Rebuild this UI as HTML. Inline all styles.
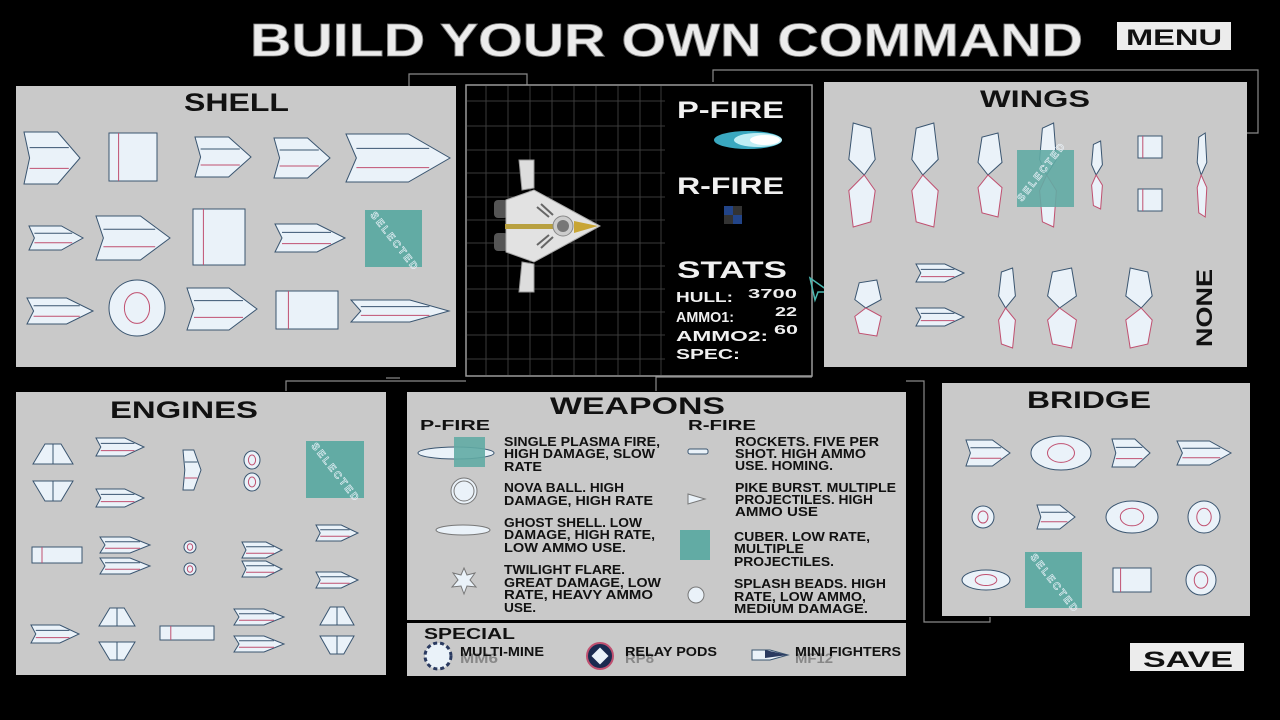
<!DOCTYPE html>
<html><head><meta charset="utf-8"><style>
html,body{margin:0;padding:0;background:#000;}
svg{display:block;}
text{font-family:"Liberation Sans",sans-serif;font-weight:bold;}
</style></head><body>
<svg width="1280" height="720" viewBox="0 0 1280 720" xmlns="http://www.w3.org/2000/svg">
<defs>
<g id="pt"><polygon points="-1,-1 0.2,-1 1,0 0.2,1 -1,1 -0.8,0" fill="#eaf2f9" stroke="#3a5570" stroke-width="1" vector-effect="non-scaling-stroke"/><line x1="-0.8" y1="-0.4" x2="0.6" y2="-0.4" stroke="#3a5570" vector-effect="non-scaling-stroke"/><line x1="-0.8" y1="0.4" x2="0.6" y2="0.4" stroke="#c05070" vector-effect="non-scaling-stroke"/></g>
<g id="ov"><ellipse cx="0" cy="0" rx="1" ry="1" fill="#eaf2f9" stroke="#3a5570" stroke-width="1" vector-effect="non-scaling-stroke"/><ellipse cx="0" cy="0" rx="0.45" ry="0.55" fill="none" stroke="#c05070" vector-effect="non-scaling-stroke"/></g>
<g id="rc"><rect x="-1" y="-1" width="2" height="2" fill="#eaf2f9" stroke="#3a5570" stroke-width="1" vector-effect="non-scaling-stroke"/><line x1="-0.6" y1="-1" x2="-0.6" y2="1" stroke="#c05070" vector-effect="non-scaling-stroke"/></g>
<g id="tr"><polygon points="-1,1 -0.4,-1 0.4,-1 1,1" fill="#eaf2f9" stroke="#3a5570" stroke-width="1" vector-effect="non-scaling-stroke"/><line x1="0" y1="-1" x2="0" y2="1" stroke="#3a5570" vector-effect="non-scaling-stroke"/></g>
<g id="wg"><polygon points="-0.4,-1 0.4,-0.9 0.6,-0.3 0.1,0 -0.6,-0.3" fill="#eaf2f9" stroke="#3a5570" vector-effect="non-scaling-stroke"/><polygon points="-0.4,1 0.4,0.9 0.6,0.3 0.1,0 -0.6,0.3" fill="#eaf2f9" stroke="#c05070" vector-effect="non-scaling-stroke"/></g>
</defs>

<!-- deco lines -->
<g fill="none" stroke="#8a8a8a" stroke-width="1.2">
<polyline points="409,86 409,74 527,74 527,85"/>
<polyline points="713,82 713,70 1258,70 1258,133 1247,133"/>
<polyline points="286,391 286,381 466,381"/>
<polyline points="656,391 656,377 812,377"/>
<polyline points="906,381 924,381 924,622 990,622 990,617"/>
<polyline points="386,378 400,378"/>
</g>

<!-- title -->
<text x="250" y="56" font-size="46" fill="#ececec" stroke="#888" stroke-width="0.8" textLength="833" lengthAdjust="spacingAndGlyphs" font-weight="normal">BUILD YOUR OWN COMMAND</text>
<rect x="1117" y="22" width="114" height="28" fill="#ececec"/>
<text x="1126" y="45" font-size="22" fill="#111" textLength="96" lengthAdjust="spacingAndGlyphs" font-weight="normal">MENU</text>
<rect x="1130" y="643" width="114" height="28" fill="#ececec"/>
<text x="1143" y="667" font-size="22" fill="#111" textLength="90" lengthAdjust="spacingAndGlyphs">SAVE</text>

<!-- SHELL -->
<rect x="16" y="86" width="440" height="281" fill="#c9c9c9"/>
<text x="184" y="111" font-size="25" fill="#111" textLength="105" lengthAdjust="spacingAndGlyphs">SHELL</text>
<use href="#pt" transform="translate(52,158) scale(28,26)"/>
<use href="#rc" transform="translate(133,157) scale(24,24)"/>
<use href="#pt" transform="translate(223,157) scale(28,20)"/>
<use href="#pt" transform="translate(302,158) scale(28,20)"/>
<use href="#pt" transform="translate(398,158) scale(52,24)"/>
<use href="#pt" transform="translate(56,238) scale(27,12)"/>
<use href="#pt" transform="translate(133,238) scale(37,22)"/>
<use href="#rc" transform="translate(219,237) scale(26,28)"/>
<use href="#pt" transform="translate(310,238) scale(35,14)"/>
<rect x="365" y="210" width="57" height="57" fill="#62aba4"/>
<text x="0" y="0" font-size="10" fill="none" stroke="#eaf2f9" stroke-width="0.6" transform="translate(370,215) rotate(52)" textLength="70" font-weight="normal">SELECTED</text>
<use href="#pt" transform="translate(60,311) scale(33,13)"/>
<use href="#ov" transform="translate(137,308) scale(28,28)"/>
<use href="#pt" transform="translate(222,309) scale(35,21)"/>
<use href="#rc" transform="translate(307,310) scale(31,19)"/>
<use href="#pt" transform="translate(400,311) scale(49,11)"/>

<!-- CENTER -->
<rect x="466" y="85" width="346" height="291" fill="#000" stroke="#9a9a9a" stroke-width="1.5"/>
<g stroke="#3a3a3a" stroke-width="1">
<line x1="486" y1="86" x2="486" y2="375"/><line x1="508" y1="86" x2="508" y2="375"/><line x1="530" y1="86" x2="530" y2="375"/><line x1="552" y1="86" x2="552" y2="375"/><line x1="574" y1="86" x2="574" y2="375"/><line x1="596" y1="86" x2="596" y2="375"/><line x1="618" y1="86" x2="618" y2="375"/><line x1="640" y1="86" x2="640" y2="375"/><line x1="661" y1="86" x2="661" y2="375"/>
<line x1="467" y1="101" x2="665" y2="101"/><line x1="467" y1="126" x2="665" y2="126"/><line x1="467" y1="150" x2="665" y2="150"/><line x1="467" y1="173" x2="665" y2="173"/><line x1="467" y1="197" x2="665" y2="197"/><line x1="467" y1="220" x2="665" y2="220"/><line x1="467" y1="243" x2="665" y2="243"/><line x1="467" y1="266" x2="665" y2="266"/><line x1="467" y1="289" x2="665" y2="289"/><line x1="467" y1="312" x2="665" y2="312"/><line x1="467" y1="335" x2="665" y2="335"/><line x1="467" y1="359" x2="665" y2="359"/>
</g>
<!-- big ship -->
<polygon points="519,160 534,160 534,188 522,190" fill="#ddd" stroke="#999"/>
<polygon points="519,292 534,292 534,264 522,262" fill="#ddd" stroke="#999"/>
<rect x="494" y="200" width="14" height="18" rx="4" fill="#555"/>
<rect x="494" y="233" width="14" height="18" rx="4" fill="#555"/>
<polygon points="506,200 534,190 600,226 534,262 506,252" fill="#e2e2e2" stroke="#aaa"/>
<rect x="505" y="224" width="55" height="5" fill="#b8a040"/>
<circle cx="563" cy="226" r="10" fill="#ccc" stroke="#888"/>
<circle cx="563" cy="226" r="6" fill="#777"/>
<polygon points="574,221 598,226 574,233" fill="#c8a535"/>
<g stroke="#666" stroke-width="2"><line x1="537" y1="207" x2="549" y2="217"/><line x1="541" y1="204" x2="553" y2="215"/><line x1="537" y1="245" x2="549" y2="235"/><line x1="541" y1="248" x2="553" y2="237"/></g>
<text x="677" y="118" font-size="24" fill="#f0f0f0" textLength="107" lengthAdjust="spacingAndGlyphs">P-FIRE</text>
<ellipse cx="748" cy="140" rx="34" ry="9" fill="#3aa8c0"/>
<ellipse cx="758" cy="140" rx="24" ry="7" fill="#bfeef5"/>
<ellipse cx="765" cy="140" rx="15" ry="5" fill="#fff"/>
<text x="677" y="194" font-size="24" fill="#f0f0f0" textLength="107" lengthAdjust="spacingAndGlyphs">R-FIRE</text>
<rect x="724" y="206" width="18" height="18" fill="#333"/><rect x="724" y="206" width="9" height="9" fill="#224488"/><rect x="733" y="215" width="9" height="9" fill="#224488"/>
<text x="677" y="278" font-size="24" fill="#f0f0f0" textLength="110" lengthAdjust="spacingAndGlyphs">STATS</text>
<g fill="#f0f0f0" font-weight="normal">
<text x="676" y="302" font-size="15" textLength="57" lengthAdjust="spacingAndGlyphs">HULL:</text>
<text x="748" y="298" font-size="13" textLength="49" lengthAdjust="spacingAndGlyphs">3700</text>
<text x="676" y="322" font-size="15" textLength="58" lengthAdjust="spacingAndGlyphs">AMMO1:</text>
<text x="775" y="316" font-size="13" textLength="22" lengthAdjust="spacingAndGlyphs">22</text>
<text x="676" y="341" font-size="15" textLength="92" lengthAdjust="spacingAndGlyphs">AMMO2:</text>
<text x="774" y="334" font-size="13" textLength="24" lengthAdjust="spacingAndGlyphs">60</text>
<text x="676" y="359" font-size="15" textLength="64" lengthAdjust="spacingAndGlyphs">SPEC:</text>
</g>
<polygon points="810,278 830,292 818,292 815,300" fill="none" stroke="#4ab8b0" stroke-width="1.5"/>

<!-- WINGS -->
<rect x="824" y="82" width="423" height="285" fill="#c9c9c9"/>
<text x="980" y="107" font-size="24" fill="#111" textLength="110" lengthAdjust="spacingAndGlyphs">WINGS</text>
<use href="#wg" transform="translate(862,175) scale(22,52)"/>
<use href="#wg" transform="translate(925,175) scale(-22,52)"/>
<use href="#wg" transform="translate(990,175) scale(-20,42)"/>
<use href="#wg" transform="translate(1048,175) scale(-14,52)"/>
<rect x="1017" y="150" width="57" height="57" fill="#62aba4" opacity="0.9"/>
<text x="0" y="0" font-size="10" fill="none" stroke="#eaf2f9" stroke-width="0.6" transform="translate(1022,202) rotate(-52)" textLength="70" font-weight="normal">SELECTED</text>
<use href="#wg" transform="translate(1097,175) scale(-9,34)"/>
<use href="#rc" transform="translate(1150,147) scale(12,11)"/>
<use href="#rc" transform="translate(1150,200) scale(12,11)"/>
<use href="#wg" transform="translate(1202,175) scale(-8,42)"/>
<use href="#wg" transform="translate(868,308) scale(-22,28)"/>
<use href="#pt" transform="translate(940,273) scale(24,9)"/>
<use href="#pt" transform="translate(940,317) scale(24,9)"/>
<use href="#wg" transform="translate(1007,308) scale(-14,40)"/>
<use href="#wg" transform="translate(1062,308) scale(-24,40)"/>
<use href="#wg" transform="translate(1139,308) scale(22,40)"/>
<text x="0" y="0" font-size="22" fill="#111" transform="translate(1212,347) rotate(-90)" textLength="78" lengthAdjust="spacingAndGlyphs" font-weight="normal">NONE</text>

<!-- ENGINES -->
<rect x="16" y="392" width="370" height="283" fill="#c9c9c9"/>
<text x="110" y="418" font-size="24" fill="#111" textLength="148" lengthAdjust="spacingAndGlyphs">ENGINES</text>
<use href="#tr" transform="translate(53,454) scale(20,10)"/>
<use href="#tr" transform="translate(53,491) scale(20,-10)"/>
<use href="#pt" transform="translate(120,447) scale(24,9)"/>
<use href="#pt" transform="translate(120,498) scale(24,9)"/>
<use href="#pt" transform="translate(192,470) scale(9,20)"/>
<use href="#ov" transform="translate(252,460) scale(8,9)"/>
<use href="#ov" transform="translate(252,482) scale(8,9)"/>
<rect x="306" y="441" width="58" height="57" fill="#62aba4"/>
<text x="0" y="0" font-size="10" fill="none" stroke="#eaf2f9" stroke-width="0.6" transform="translate(311,446) rotate(52)" textLength="70" font-weight="normal">SELECTED</text>
<use href="#rc" transform="translate(57,555) scale(25,8)"/>
<use href="#pt" transform="translate(125,545) scale(25,8)"/>
<use href="#pt" transform="translate(125,566) scale(25,8)"/>
<use href="#ov" transform="translate(190,547) scale(6,6)"/>
<use href="#ov" transform="translate(190,569) scale(6,6)"/>
<use href="#pt" transform="translate(262,550) scale(20,8)"/>
<use href="#pt" transform="translate(262,569) scale(20,8)"/>
<use href="#pt" transform="translate(337,533) scale(21,8)"/>
<use href="#pt" transform="translate(337,580) scale(21,8)"/>
<use href="#pt" transform="translate(55,634) scale(24,9)"/>
<use href="#tr" transform="translate(117,617) scale(18,9)"/>
<use href="#tr" transform="translate(117,651) scale(18,-9)"/>
<use href="#rc" transform="translate(187,633) scale(27,7)"/>
<use href="#pt" transform="translate(259,617) scale(25,8)"/>
<use href="#pt" transform="translate(259,644) scale(25,8)"/>
<use href="#tr" transform="translate(337,616) scale(17,9)"/>
<use href="#tr" transform="translate(337,645) scale(17,-9)"/>

<!-- WEAPONS -->
<rect x="407" y="392" width="499" height="228" fill="#c9c9c9"/>
<rect x="407" y="623" width="499" height="53" fill="#c9c9c9"/>
<text x="550" y="414" font-size="24" fill="#111" textLength="175" lengthAdjust="spacingAndGlyphs">WEAPONS</text>
<text x="420" y="430" font-size="15" fill="#111" textLength="70" lengthAdjust="spacingAndGlyphs">P-FIRE</text>
<text x="688" y="430" font-size="15" fill="#111" textLength="68" lengthAdjust="spacingAndGlyphs">R-FIRE</text>
<ellipse cx="456" cy="453" rx="38" ry="6" fill="#eaf2f9" stroke="#3a5570"/>
<rect x="454" y="437" width="31" height="30" fill="#62aba4" opacity="0.9"/>
<circle cx="464" cy="491" r="13" fill="#eaf2f9" stroke="#777"/><circle cx="464" cy="491" r="10" fill="none" stroke="#777"/>
<ellipse cx="463" cy="530" rx="27" ry="5" fill="#eaf2f9" stroke="#777"/>
<polygon points="464,568 467,575 475,573 470,580 476,587 467,586 464,594 461,586 452,587 458,580 453,573 461,575" fill="#eaf2f9" stroke="#777"/>
<rect x="688" y="449" width="20" height="5" rx="2" fill="#eaf2f9" stroke="#3a5570"/>
<polygon points="688,494 705,499 688,504" fill="#eaf2f9" stroke="#777"/>
<rect x="680" y="530" width="30" height="30" fill="#62aba4"/>
<circle cx="696" cy="595" r="8" fill="#eaf2f9" stroke="#777"/>
<g fill="#111" font-size="13">
<text x="504" y="446" textLength="156" lengthAdjust="spacingAndGlyphs">SINGLE PLASMA FIRE,</text>
<text x="504" y="458" textLength="151" lengthAdjust="spacingAndGlyphs">HIGH DAMAGE, SLOW</text>
<text x="504" y="471" textLength="38" lengthAdjust="spacingAndGlyphs">RATE</text>
<text x="504" y="492" textLength="120" lengthAdjust="spacingAndGlyphs">NOVA BALL. HIGH</text>
<text x="504" y="505" textLength="149" lengthAdjust="spacingAndGlyphs">DAMAGE, HIGH RATE</text>
<text x="504" y="527" textLength="138" lengthAdjust="spacingAndGlyphs">GHOST SHELL. LOW</text>
<text x="504" y="539" textLength="151" lengthAdjust="spacingAndGlyphs">DAMAGE, HIGH RATE,</text>
<text x="504" y="552" textLength="122" lengthAdjust="spacingAndGlyphs">LOW AMMO USE.</text>
<text x="504" y="574" textLength="121" lengthAdjust="spacingAndGlyphs">TWILIGHT FLARE.</text>
<text x="504" y="587" textLength="157" lengthAdjust="spacingAndGlyphs">GREAT DAMAGE, LOW</text>
<text x="504" y="599" textLength="149" lengthAdjust="spacingAndGlyphs">RATE, HEAVY AMMO</text>
<text x="504" y="612" textLength="32" lengthAdjust="spacingAndGlyphs">USE.</text>
<text x="735" y="446" textLength="144" lengthAdjust="spacingAndGlyphs">ROCKETS. FIVE PER</text>
<text x="735" y="458" textLength="131" lengthAdjust="spacingAndGlyphs">SHOT. HIGH AMMO</text>
<text x="735" y="470" textLength="98" lengthAdjust="spacingAndGlyphs">USE. HOMING.</text>
<text x="735" y="492" textLength="161" lengthAdjust="spacingAndGlyphs">PIKE BURST. MULTIPLE</text>
<text x="735" y="504" textLength="138" lengthAdjust="spacingAndGlyphs">PROJECTILES. HIGH</text>
<text x="735" y="516" textLength="83" lengthAdjust="spacingAndGlyphs">AMMO USE</text>
<text x="734" y="541" textLength="136" lengthAdjust="spacingAndGlyphs">CUBER. LOW RATE,</text>
<text x="734" y="553" textLength="70" lengthAdjust="spacingAndGlyphs">MULTIPLE</text>
<text x="734" y="566" textLength="100" lengthAdjust="spacingAndGlyphs">PROJECTILES.</text>
<text x="734" y="588" textLength="152" lengthAdjust="spacingAndGlyphs">SPLASH BEADS. HIGH</text>
<text x="734" y="601" textLength="132" lengthAdjust="spacingAndGlyphs">RATE, LOW AMMO,</text>
<text x="734" y="613" textLength="134" lengthAdjust="spacingAndGlyphs">MEDIUM DAMAGE.</text>
</g>
<text x="424" y="639" font-size="16" fill="#111" textLength="91" lengthAdjust="spacingAndGlyphs">SPECIAL</text>
<circle cx="438" cy="656" r="13" fill="#eaf2f9" stroke="#2a3a60" stroke-width="3" stroke-dasharray="4 3"/>
<circle cx="600" cy="656" r="13" fill="#1a2a50" stroke="#c05070" stroke-width="2"/><rect x="594" y="650" width="12" height="12" fill="#eaf2f9" transform="rotate(45 600 656)"/>
<polygon points="752,650 770,650 788,655 770,660 752,660" fill="#eaf2f9" stroke="#3a5570"/><polygon points="765,650 788,655 765,658" fill="#2a3a60"/>
<text x="460" y="663" font-size="14" fill="#888" textLength="38" lengthAdjust="spacingAndGlyphs">MM6</text>
<text x="625" y="663" font-size="14" fill="#888" textLength="29" lengthAdjust="spacingAndGlyphs">RP8</text>
<text x="795" y="663" font-size="14" fill="#888" textLength="38" lengthAdjust="spacingAndGlyphs">MF12</text>
<g fill="#111" font-size="13">
<text x="460" y="656" textLength="84" lengthAdjust="spacingAndGlyphs">MULTI-MINE</text>
<text x="625" y="656" textLength="92" lengthAdjust="spacingAndGlyphs">RELAY PODS</text>
<text x="795" y="656" textLength="106" lengthAdjust="spacingAndGlyphs">MINI FIGHTERS</text>
</g>

<!-- BRIDGE -->
<rect x="942" y="383" width="308" height="233" fill="#c9c9c9"/>
<text x="1027" y="408" font-size="24" fill="#111" textLength="124" lengthAdjust="spacingAndGlyphs">BRIDGE</text>
<use href="#pt" transform="translate(988,453) scale(22,13)"/>
<use href="#ov" transform="translate(1061,453) scale(30,17)"/>
<use href="#pt" transform="translate(1131,453) scale(19,14)"/>
<use href="#pt" transform="translate(1204,453) scale(27,12)"/>
<use href="#ov" transform="translate(983,517) scale(11,11)"/>
<use href="#pt" transform="translate(1056,517) scale(19,12)"/>
<use href="#ov" transform="translate(1132,517) scale(26,16)"/>
<use href="#ov" transform="translate(1204,517) scale(16,16)"/>
<use href="#ov" transform="translate(986,580) scale(24,10)"/>
<rect x="1025" y="552" width="57" height="56" fill="#62aba4"/>
<text x="0" y="0" font-size="10" fill="none" stroke="#eaf2f9" stroke-width="0.6" transform="translate(1030,557) rotate(52)" textLength="70" font-weight="normal">SELECTED</text>
<use href="#rc" transform="translate(1132,580) scale(19,12)"/>
<use href="#ov" transform="translate(1201,580) scale(15,15)"/>
</svg>
</body></html>
